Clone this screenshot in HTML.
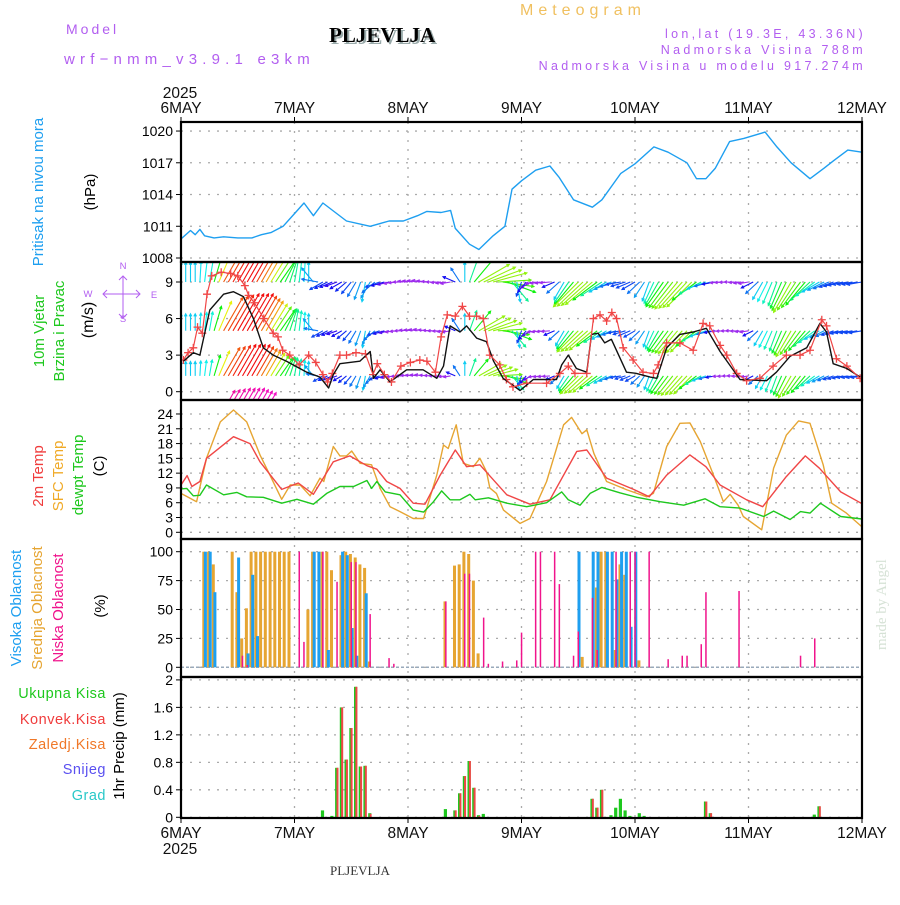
<!DOCTYPE html>
<html><head><meta charset="utf-8"><style>
body{margin:0;background:#fff;width:900px;height:900px;overflow:hidden}
svg text{font-family:"Liberation Sans",sans-serif}
</style></head><body>
<svg id="chart" width="900" height="900" xmlns="http://www.w3.org/2000/svg">
<defs>
<clipPath id="cw"><rect x="181" y="263" width="681" height="136"/></clipPath>
<clipPath id="cp"><rect x="181" y="123" width="681" height="138"/></clipPath>
</defs>
<g id="texts">
<text x="66" y="34" fill="#b25ef0" font-size="14" letter-spacing="3">Model</text>
<text x="64" y="64" fill="#b25ef0" font-size="15" letter-spacing="5.2">wrf−nmm_v3.9.1 e3km</text>
<text x="331" y="44" fill="#9aa" font-size="21" font-weight="bold" style="font-family:'Liberation Serif',serif">PLJEVLJA</text>
<text x="329" y="42" fill="#000" font-size="21" font-weight="bold" style="font-family:'Liberation Serif',serif">PLJEVLJA</text>
<text x="520" y="15" fill="#f0c060" font-size="16" letter-spacing="5">Meteogram</text>
<text x="866" y="38" fill="#b25ef0" font-size="12.5" letter-spacing="3.3" text-anchor="end">lon,lat (19.3E, 43.36N)</text>
<text x="866" y="54" fill="#b25ef0" font-size="12.5" letter-spacing="3.3" text-anchor="end">Nadmorska Visina 788m</text>
<text x="866" y="70" fill="#b25ef0" font-size="12.5" letter-spacing="3.3" text-anchor="end">Nadmorska Visina u modelu 917.274m</text>
<text x="330" y="875" fill="#333" font-size="13" style="font-family:'Liberation Serif',serif">PLJEVLJA</text>
<text transform="translate(886,650) rotate(-90)" fill="#d6e2d6" font-size="15" style="font-family:'Liberation Serif',serif">made by Angel</text>
</g>
<g id="ylabels" font-size="14"></g>
<g id="grid"></g>
<g id="series"></g>
<g id="frames"></g>
</svg>
<script>
// ---------- data ----------
const dayLabels = ["6MAY","7MAY","8MAY","9MAY","10MAY","11MAY","12MAY"];
const pHours = [0,2,3,4,5,7,9,12,15,17,19,21.6,24,26,28,30,35,40,44,47,50,52,55,57,58,61,63,66,68.5,70,72,75,78,80,83,87,89,93,96,100,103,107,109,111,113,116,119,123.5,126,129,133,136,138,141,144];
const pVals  = [1009.8,1010.6,1010.2,1010.7,1010.1,1009.9,1010.0,1009.9,1009.9,1010.2,1010.4,1011.0,1012.2,1013.2,1012.0,1013.2,1011.5,1011.0,1011.5,1011.5,1012.0,1012.4,1012.3,1012.5,1010.8,1009.3,1008.8,1010.1,1011.0,1014.5,1015.3,1016.3,1016.7,1015.6,1013.5,1012.8,1013.5,1016.0,1016.9,1018.5,1018.0,1017.0,1015.5,1015.5,1016.5,1019.0,1019.3,1019.9,1018.5,1017.0,1015.5,1016.5,1017.2,1018.2,1018.0];

const tHours = [0,1.3,2.3,4,5.4,11.1,14.6,16.7,21.3,24.8,28,32.2,35.7,39.3,41.4,43.5,46.3,49.1,51.6,54.8,58,60.4,63.2,68.9,73.8,78,83.7,85.8,90,95.7,99,102.7,107.6,111,114,119.6,123,128,132,135,139.5,144];
const t2m    = [9.6,11.5,9.3,10.3,15,19.4,18,14.3,8.7,10,7.7,14.3,15.5,13.5,12.8,10.3,8.9,5.9,5.7,11.6,16.7,13.3,13.7,7.6,5.7,6.6,16.4,16.7,11,8.7,7.2,11.6,15.7,13.3,9.6,6.6,5.2,11.3,15.5,13,8.2,5.8];
const sHours = [0,3.3,5.4,8.3,11.1,13.9,16.7,18.8,21.3,23.1,25.2,27.3,29.4,30.2,32.2,33.6,35,36.1,37.9,40.3,42.1,44.2,46.3,49.1,51.3,54.1,55.5,56.5,58.2,59.7,61.8,63.2,64.6,65.3,66.7,68.2,71.7,73.8,77.3,80.9,82.6,84.8,85.8,87.3,90,94.3,98.5,99.9,102.7,105.5,107.6,109.8,112.6,114.7,116.1,117.8,118.9,122.8,125.3,128,130.6,133,135.8,137.6,140.7,144];
const tSfc   = [7.9,6.2,15,22.4,24.8,22.4,15.7,11.6,6.7,9.6,9.6,7.4,11,10.3,17.4,15.5,15.5,16.5,14,13.7,8.9,5.2,4.2,2.8,2.8,11.6,17.7,17,21.8,14,13.3,15,12.3,9,7.9,4.5,1.8,2.8,10.3,21.8,23.3,20,20.8,16,10.3,8.6,7.2,7.9,17.4,22.1,22.2,18.4,11.6,6.2,7.7,5.5,3.2,0.5,13,19.7,22.6,22.1,13.7,5.9,3.9,1.1];
const dHours = [0,1.2,2.6,4,5.4,9,11.8,13.9,17.4,21.3,24.5,28,30.8,33.6,36.5,39.3,40.3,41.4,43.2,46.3,49.1,51.3,53.4,55.1,56.9,59,61.1,62.2,65,68.9,73.1,77.3,80.5,81.9,84.4,86.5,89,92.9,96.4,101.3,106.3,110.8,114,118.2,123.2,125.3,128.8,131,133,135.2,139.5,144];
const tDew   = [8.8,8.9,7.4,7.5,9.6,7.6,8.1,7.2,7.1,5.9,6.7,5.7,7.9,9.3,9.3,10.5,8.9,10.3,8.2,7.6,4.5,4.1,6.2,8.4,6.6,6.6,7.7,6.6,7,5.9,5.2,6,8.2,6.6,5.5,7.9,9.1,8,7.1,6.2,5.5,6.8,5.2,4.9,3.2,4.3,2.6,4.2,3.9,5.9,3.2,2.7];

const wHours = [0.5,2.6,4,6.1,9,11.1,13.2,15.3,17.4,19.5,22.3,26.6,29.4,31.2,32.2,33.6,37.8,40,40.7,42.1,44.2,47.7,51.2,54.1,55.5,56.9,59,60.4,62.5,64.6,66.1,68.1,71.7,74.5,79.4,80.5,81.9,83.6,85.8,86.8,88.2,89.6,91,94.2,96.3,99.2,100.6,102.7,105.5,108.3,111.1,114,118.2,123.8,125.9,128.8,132.3,135.1,136.5,137.9,140.8,143.6];
const wSpeed = [2.5,3.2,3.0,6.7,8.0,8.2,7.8,6.0,3.6,3.0,2.5,1.6,1.2,0.3,1.4,2.3,2.5,3.3,1.1,1.8,0.8,1.8,1.8,1.1,2.1,5.4,4.9,5.4,4.4,4.1,2.5,1.1,0.1,1.0,1.0,2.2,3.0,1.9,1.6,4.7,4.8,4.0,4.3,1.6,1.5,1.2,1.1,3.6,4.7,4.9,5.2,3.3,1.0,0.9,1.6,2.9,3.6,5.6,4.9,2.3,1.9,1.2];
const gHours = [0.5,1.5,2.6,3.5,4.5,5.5,6.5,8.5,10.5,12,13.5,14.3,15.5,17.5,19.5,20.5,21.5,23,25,27,28.5,30,31,32,33.6,35,37,39,40.6,41.5,43,44.5,46.5,48.5,50.5,52,53.8,55,56.3,58,59.5,61,62.5,63.9,65.3,67.4,68.8,70.2,73.1,77.3,80.1,81.9,83.3,85.8,87.2,88.6,90,91.1,92.1,93.5,95.6,97.7,99.9,100.9,102.7,105.5,108.3,110.4,111.8,114,115.4,117.5,119.6,122.4,125.2,128,130.9,133,135.5,136.5,138.6,140.8,143.6];
const wGust  = [2.6,3.2,3.6,5.3,4.8,8,9.5,9.8,9.7,9.5,8.7,7.9,7.3,6,4.8,4.5,3.4,3,2.2,3,2.4,1.4,0.8,1.5,3,3,3.2,3.1,1.4,2.3,1.4,0.8,2.1,2.4,2.6,2.5,1.6,4.5,6.3,6.2,7,6.2,6.2,6,3,2.2,1,0.4,0.7,0.7,1.5,2.1,1.5,1.5,6,6.3,5.8,6.5,6,3.6,2.6,1.6,1.5,2.2,4,4,3.4,5.6,5.4,3.8,3,1.5,0.9,1.1,2.1,3,3,3.4,5.9,5.4,2.7,2.1,1.1];

const arrowDir = [0,0,10,30,30,30,30,35,10,0,240,250,220,190,250,260,275,280,270,260,0,60,75,110,200,260,265,210,225,230,240,260,240,200,215,220,225,250,265,270,260,210,200,210,220,240,250,260,260];
const arrowSpd = [4,4,4.5,9,10,10,8,6,5,4,3,2.5,3,4,3,2,2,2,2,2,4,7,7,6,3,2,2,4,7,7,4,3,3,4,6,7,7,4,2,2,2,4,5,7,6,4,3,3,3];

const cloudHigh = [[5,100],[6,100],[7,65],[12,95],[14,12],[15,80],[16,27],[28,100],[29,100],[31,15],[34,100],[35,97],[36,34],[37,10],[39,64],[84,100],[87,100],[88,100],[90,100],[91,100],[92,76],[93,100],[94,100],[95,35],[96,100]];
const cloudMid  = [[5,100],[6,100],[7,89],[11,100],[12,65],[13,25],[14,51],[15,100],[16,100],[17,100],[18,100],[19,100],[20,100],[21,100],[22,100],[23,100],[27,50],[28,100],[30,100],[31,100],[32,84],[34,97],[35,100],[36,98],[37,95],[38,89],[39,86],[40,5],[56,57],[58,88],[59,89],[60,100],[61,98],[62,75],[63,12],[85,9],[88,69],[89,100],[90,100],[92,15],[93,89],[94,80],[97,6]];
const cloudLow  = [[13,10],[14,2],[25,100],[26,22],[30,100],[33,74],[36,91],[37,91],[40,46],[44,8],[45,3],[56,57],[60,81],[61,81],[64,43],[65,3],[68,5],[71,6],[72,30],[75,100],[76,100],[79,100],[80,72],[83,10],[84,31],[87,60],[88,15],[92,100],[95,100],[96,100],[99,100],[103,7],[106,10],[107,10],[110,20],[111,65],[118,66],[131,10],[134,25]];

const precipHours = [30,32,33,34,35,36,37,38,39,40,56,58,59,60,61,62,63,64,87,88,89,91,92,93,94,95,97,98,111,112,134,135];
const precipTotal = [0.1,0.02,0.72,1.6,0.84,1.3,1.9,0.74,0.75,0.06,0.12,0.1,0.35,0.6,0.82,0.43,0.03,0.05,0.27,0.14,0.4,0.03,0.14,0.27,0.1,0.02,0.06,0.02,0.23,0.06,0.04,0.16];
const precipConv  = [0,0,0.72,1.6,0.84,1.3,1.9,0.74,0.75,0.05,0,0.1,0.35,0.6,0.82,0.43,0.02,0,0.27,0.14,0.4,0,0,0,0,0,0,0,0.23,0.06,0,0.16];

// ---------- scales ----------
const X0=181,X1=862,HOURS=144;
const xs=h=>X0+h*(X1-X0)/HOURS;
const yP=p=>258-(p-1008)*10.58;
const yW=v=>391.7-v*12.19;
const yT=t=>532.3-t*4.93;
const yC=v=>667.3-v*1.156;
const yR=v=>817.3-v*68.7;
const NS="http://www.w3.org/2000/svg";
function mk(tag,attrs,parent){const e=document.createElementNS(NS,tag);for(const k in attrs)e.setAttribute(k,attrs[k]);parent.appendChild(e);return e;}
const G=document.getElementById('grid'),S=document.getElementById('series'),F=document.getElementById('frames'),YL=document.getElementById('ylabels');
const panels=[[122,262],[262,400],[400,539],[539,677],[677,818]];

function hgrid(vals,fy,lab,name){
  vals.forEach((v,i)=>{const y=fy(v);
    const l=mk('line',{x1:X0,x2:X1,y1:y,y2:y,stroke:'#aaa','stroke-width':1.3,'stroke-dasharray':'2,7'},G);
    
    
    mk('line',{x1:X0-5,x2:X0,y1:y,y2:y,stroke:'#000'},G);
    const t=mk('text',{x:X0-8,y:y+5,'text-anchor':'end','font-size':14,fill:'#000'},G);t.textContent=lab[i];
    
    
  });
}
hgrid([1020,1017,1014,1011,1008],yP,["1020","1017","1014","1011","1008"],'pressure');
hgrid([0,3,6,9],yW,["0","3","6","9"],'wind');
hgrid([0,3,6,9,12,15,18,21,24],yT,["0","3","6","9","12","15","18","21","24"],'temp');
hgrid([0,25,50,75,100],yC,["0","25","50","75","100"],'cloud');
hgrid([0,0.4,0.8,1.2,1.6,2],yR,["0","0.4","0.8","1.2","1.6","2"],'precip');
dayLabels.forEach((d,i)=>{const x=xs(i*24);
  if(i>0&&i<6){const l=mk('line',{x1:x,x2:x,y1:122,y2:818,stroke:'#aaa','stroke-width':1.3,'stroke-dasharray':'2,7'},G);
    
    }
  mk('line',{x1:x,x2:x,y1:117,y2:122,stroke:'#000'},G);
  mk('line',{x1:x,x2:x,y1:818,y2:823,stroke:'#000'},G);
  const t=mk('text',{x:x,y:113,'text-anchor':'middle','font-size':15.5,fill:'#111'},G);t.textContent=d;
  
  
  const b=mk('text',{x:x,y:838,'text-anchor':'middle','font-size':15.5,fill:'#111'},G);b.textContent=d;
  
  
});
[[180,98],[180,854]].forEach(p=>{const t=mk('text',{x:p[0],y:p[1],'text-anchor':'middle','font-size':15.5,fill:'#111'},G);t.textContent="2025";
  
  });

function vlab(x,y,txt,col,name,fs){const t=mk('text',{transform:`translate(${x},${y}) rotate(-90)`,'text-anchor':'middle','font-size':fs||15,fill:col},YL);t.textContent=txt;
  
  }
vlab(43,192,"Pritisak na nivou mora","#1e9ff0","pressure-title");
vlab(95,192,"(hPa)","#000","pressure-unit");
vlab(44,331,"10m Vjetar","#1ec81e","wind-title");
vlab(64,331,"Brzina i Pravac","#1ec81e","wind-title-2");
vlab(93,320,"(m/s)","#000","wind-unit",16);
vlab(43,476,"2m Temp","#f03c3c","t2m-title");
vlab(63,476,"SFC Temp","#f0aa28","sfc-title");
vlab(83,475,"dewpt Temp","#1ec81e","dewpt-title");
vlab(104,466,"(C)","#000","temp-unit");
vlab(21,608,"Visoka Oblacnost","#1e9ff0","high-cloud-title");
vlab(42,608,"Srednja Oblacnost","#e6a532","mid-cloud-title");
vlab(63,608,"Niska Oblacnost","#f0148c","low-cloud-title");
vlab(105,606,"(%)","#000","cloud-unit");
vlab(124,746,"1hr Precip (mm)","#000","precip-unit",15);
[["Ukupna  Kisa","#1ec81e",698],["Konvek.Kisa","#f03c3c",724],["Zaledj.Kisa","#f07828",749],["Snijeg","#5a50f0",774],["Grad","#28c8c8",800]].forEach(a=>{
  const t=mk('text',{x:106,y:a[2],'text-anchor':'end','font-size':14.5,fill:a[1],'letter-spacing':0.5},YL);t.textContent=a[0];
  
  });
const cg=mk('g',{fill:'#b25ef0','font-size':9.5},YL);


[["N",123,269],["W",88,297],["E",154,298],["S",123,322]].forEach(a=>{const t=mk('text',{x:a[1],y:a[2],'text-anchor':'middle'},cg);t.textContent=a[0];});
mk('path',{d:'M103,294 H140 M123,276 V318 M107,290 L103,294 L107,298 M136,290 L140,294 L136,298 M119,280 L123,276 L127,280 M119,314 L123,318 L127,314',stroke:'#b25ef0',fill:'none','stroke-width':1},cg);

function poly(hs,vs,fy,col,w,name,clip){
  const pts=hs.map((h,i)=>xs(h).toFixed(1)+','+fy(vs[i]).toFixed(1)).join(' ');
  const p=mk('polyline',{points:pts,fill:'none',stroke:col,'stroke-width':w||1.3,'stroke-linejoin':'round'},S);
  if(clip)p.setAttribute('clip-path',clip);
  
  
  return p;
}
poly(pHours,pVals,yP,'#1e9ff0',1.4,'pressure-line','url(#cp)');

function interp(arr,h){const i=Math.min(Math.floor(h/3),arr.length-2),f=h/3-i;return arr[i]+(arr[i+1]-arr[i])*f;}
function interpDir(h){const i=Math.min(Math.floor(h/3),arrowDir.length-2),f=h/3-i;let a=arrowDir[i],b=arrowDir[i+1];let d=b-a;if(d>180)d-=360;if(d<-180)d+=360;return a+d*f;}
function spdColor(s){const stops=[[2,275],[3,225],[4,190],[6,120],[7,85],[8,40],[10,0]];
  if(s<=2)return 'hsl(275,85%,55%)';for(let i=1;i<stops.length;i++){if(s<=stops[i][0]){const f=(s-stops[i-1][0])/(stops[i][0]-stops[i-1][0]);return `hsl(${stops[i-1][1]+(stops[i][1]-stops[i-1][1])*f},90%,50%)`;}}return 'hsl(0,90%,55%)';}
const wg=mk('g',{'clip-path':'url(#cw)'},S);


[[9.0,1.0],[5.0,0.85],[1.3,0.72],[-1.5,0.5]].forEach((row,ri)=>{
  for(let h=0;h<=144;h+=1){
    if(ri==3&&(h<9||h>18))continue;
    const s=interp(arrowSpd,h),d=interpDir(h)*Math.PI/180;
    const L=s*5*row[1];const x=xs(h),y=yW(row[0]);
    const x2=x+Math.sin(d)*L,y2=y-Math.cos(d)*L;
    const c=ri==3?'hsl('+(330-h)+',90%,50%)':spdColor(s);
    const hd=3,a1=d+Math.PI*0.85,a2=d-Math.PI*0.85;
    const ar=mk('path',{d:`M${x.toFixed(1)},${y.toFixed(1)} L${x2.toFixed(1)},${y2.toFixed(1)} M${(x2+Math.sin(a1)*hd).toFixed(1)},${(y2-Math.cos(a1)*hd).toFixed(1)} L${x2.toFixed(1)},${y2.toFixed(1)} L${(x2+Math.sin(a2)*hd).toFixed(1)},${(y2-Math.cos(a2)*hd).toFixed(1)}`,stroke:c,fill:'none','stroke-width':1.1},wg);
    
    
  }
});
poly(wHours,wSpeed,yW,'#111',1.4,'wind-speed-line','url(#cw)');
poly(gHours,wGust,yW,'#f04646',1.2,'wind-gust-line','url(#cw)');
gHours.forEach((h,i)=>{const x=xs(h),y=yW(wGust[i]);
  const m=mk('path',{d:`M${x-4},${y} H${x+4} M${x},${y-4} V${y+4}`,stroke:'#f04646','stroke-width':1.3},wg);
  
  });

poly(sHours,tSfc,yT,'#e6a532',1.4,'sfc-temp-line');
poly(tHours,t2m,yT,'#f04646',1.4,'t2m-line');
poly(dHours,tDew,yT,'#1ec81e',1.4,'dewpt-line');

const base=mk('line',{x1:X0,x2:X1,y1:yC(0),y2:yC(0),stroke:'#9ab','stroke-width':1.5,'stroke-dasharray':'3,2'},S);


function cbars(arr,col,w,off,name){arr.forEach(p=>{const x=xs(p[0])+off;
  const r=mk('rect',{x:(x-w/2).toFixed(1),y:yC(p[1]).toFixed(1),width:w,height:(yC(0)-yC(p[1])).toFixed(1),fill:col},S);
  
  });}
cbars(cloudMid,'#e6a532',3,-0.8,'mid-cloud-bar');
cbars(cloudHigh,'#1e9ff0',3,0.8,'high-cloud-bar');
cbars(cloudLow,'#f0148c',1.5,0,'low-cloud-bar');

precipHours.forEach((h,i)=>{const x=xs(h);
  const g=mk('rect',{x:(x-2).toFixed(1),y:yR(precipTotal[i]).toFixed(1),width:3.2,height:(yR(0)-yR(precipTotal[i])).toFixed(1),fill:'#1ec81e'},S);
  
  
  if(precipConv[i]>0){const r=mk('rect',{x:(x-0.6).toFixed(1),y:yR(precipConv[i]).toFixed(1),width:2,height:(yR(0)-yR(precipConv[i])).toFixed(1),fill:'#f04646'},S);
    
    }
});

panels.forEach(p=>{const r=mk('rect',{x:X0,y:p[0],width:X1-X0,height:p[1]-p[0],fill:'none',stroke:'#000','stroke-width':2.2},F);
  
  });
</script>
</body></html>
